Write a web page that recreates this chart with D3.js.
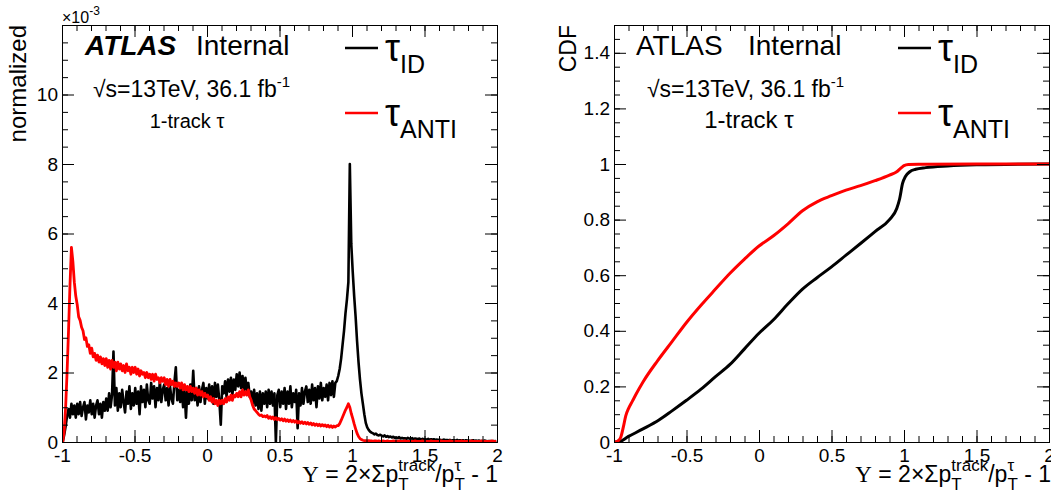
<!DOCTYPE html>
<html>
<head>
<meta charset="utf-8">
<script src="https://cdn.jsdelivr.net/npm/d3@7"></script>
<style>
  body { margin: 0; background: #fff; }
  text { white-space: pre; }
</style>
</head>
<body>
<div id="chart"></div>
<script>
var SANS = '"Liberation Sans", Arial, Helvetica, sans-serif';
var SERIF = '"Liberation Serif", "Times New Roman", serif';

// left panel: histograms of Y, bins of 0.01 from -1 to 2 (values x 1e-3)
var binStart = -1;
var binWidth = 0.01;

var histID = [
  0.0, 0.2, 0.45, 0.75, 0.95, 0.7, 1.1, 0.8, 1.05, 0.7,
  1.1, 0.8, 1.15, 0.75, 1.0, 1.15, 0.65, 1.05, 0.85, 1.2,
  0.8, 1.1, 0.7, 1.05, 1.2, 0.8, 1.1, 0.7, 1.15, 0.9,
  1.25, 0.9, 1.4, 1.0, 1.35, 2.6, 1.05, 1.55, 0.9, 1.4,
  1.0, 1.5, 1.15, 0.85, 1.45, 1.1, 1.6, 0.95, 1.4, 1.05,
  1.55, 1.1, 1.45, 0.8, 1.6, 1.15, 1.5, 1.0, 1.65, 1.2,
  1.1, 1.7, 1.25, 1.6, 1.0, 1.55, 1.2, 1.75, 1.15, 1.5,
  1.65, 1.2, 1.55, 1.05, 1.6, 1.25, 1.1, 1.7, 2.15, 1.2,
  1.5, 1.15, 1.6, 1.0, 1.45, 0.7, 1.55, 1.1, 1.65, 1.2,
  2.05, 1.2, 1.55, 1.05, 1.6, 1.15, 1.5, 1.7, 1.1, 1.55,
  1.25, 1.65, 1.2, 1.6, 1.1, 1.7, 1.3, 1.65, 1.2, 0.5,
  1.6, 1.4, 1.75, 1.3, 1.8, 1.45, 1.85, 1.35, 1.8, 1.5,
  1.95, 1.6, 2.0, 1.55, 1.9, 1.5, 1.85, 1.45, 1.7, 1.3,
  1.45, 1.1, 1.5, 1.05, 1.4, 0.95, 1.45, 0.9, 1.4, 1.1,
  1.45, 1.0, 1.5, 1.1, 1.45, 1.05, 1.4, 0.0, 1.35, 1.5,
  1.0, 1.45, 1.1, 1.55, 0.95, 1.45, 1.1, 1.6, 1.0, 1.4,
  1.15, 1.5, 0.4, 1.4, 1.05, 1.55, 1.1, 1.45, 1.6, 1.15,
  1.5, 1.1, 1.65, 1.2, 1.55, 1.0, 1.6, 1.25, 1.7, 1.2,
  1.55, 1.3, 1.65, 1.2, 1.7, 1.35, 1.75, 1.3, 1.7, 1.75,
  1.9, 2.1, 2.4, 2.8, 3.2, 3.7, 4.1, 4.6, 8.0, 5.7,
  4.9, 4.2, 3.6, 2.9, 2.3, 1.8, 1.4, 1.1, 0.8, 0.55,
  0.42, 0.35, 0.3, 0.27, 0.25, 0.22, 0.24, 0.2, 0.19, 0.21,
  0.18, 0.16, 0.19, 0.15, 0.17, 0.14, 0.16, 0.13, 0.15, 0.12,
  0.13, 0.11, 0.14, 0.1, 0.12, 0.1, 0.11, 0.09, 0.12, 0.1,
  0.09, 0.11, 0.08, 0.1, 0.09, 0.08, 0.1, 0.07, 0.09, 0.08,
  0.08, 0.07, 0.09, 0.06, 0.08, 0.07, 0.08, 0.06, 0.07, 0.06,
  0.07, 0.05, 0.06, 0.07, 0.05, 0.06, 0.05, 0.06, 0.04, 0.05,
  0.05, 0.04, 0.06, 0.04, 0.05, 0.04, 0.05, 0.03, 0.05, 0.04,
  0.04, 0.03, 0.04, 0.05, 0.03, 0.04, 0.03, 0.04, 0.03, 0.03,
  0.03, 0.04, 0.03, 0.02, 0.03, 0.03, 0.02, 0.03, 0.02, 0.03
];

var histANTI = [
  0.0, 0.3, 1.0, 2.0, 3.2, 4.5, 5.6, 5.2, 4.6, 4.2,
  3.95, 3.6, 3.5, 3.3, 3.2, 2.95, 3.0, 2.75, 2.8, 2.55,
  2.7, 2.45, 2.55, 2.35, 2.5, 2.3, 2.45, 2.25, 2.4, 2.2,
  2.4, 2.15, 2.35, 2.1, 2.35, 2.15, 2.3, 2.05, 2.3, 2.1,
  2.25, 2.05, 2.2, 2.0, 2.25, 2.05, 2.15, 1.95, 2.15, 2.0,
  2.15, 1.95, 2.1, 1.9, 2.05, 1.95, 2.0, 1.85, 2.0, 1.85,
  1.95, 1.8, 1.95, 1.75, 1.95, 1.8, 1.85, 1.7, 1.85, 1.75,
  1.85, 1.65, 1.8, 1.6, 1.8, 1.65, 1.75, 1.6, 1.7, 1.6,
  1.7, 1.55, 1.7, 1.5, 1.65, 1.5, 1.6, 1.45, 1.6, 1.45,
  1.55, 1.4, 1.55, 1.35, 1.5, 1.35, 1.45, 1.3, 1.4, 1.3,
  1.35, 1.2, 1.3, 1.15, 1.25, 1.1, 1.2, 1.05, 1.2, 1.1,
  1.2, 1.1, 1.25, 1.15, 1.3, 1.2, 1.35, 1.2, 1.35, 1.3,
  1.4, 1.3, 1.45, 1.3, 1.5, 1.35, 1.45, 1.35, 1.5, 1.3,
  1.2, 1.05, 0.95, 0.9, 0.85, 0.8, 0.76, 0.78, 0.73, 0.75,
  0.72, 0.76, 0.68, 0.73, 0.67, 0.72, 0.65, 0.7, 0.64, 0.68,
  0.63, 0.67, 0.61, 0.66, 0.6, 0.64, 0.59, 0.63, 0.58, 0.62,
  0.57, 0.61, 0.55, 0.59, 0.54, 0.58, 0.53, 0.57, 0.52, 0.56,
  0.51, 0.55, 0.49, 0.53, 0.48, 0.52, 0.47, 0.51, 0.46, 0.5,
  0.46, 0.49, 0.44, 0.48, 0.43, 0.47, 0.42, 0.46, 0.43, 0.47,
  0.47, 0.53, 0.62, 0.72, 0.82, 0.92, 1.0, 1.1, 1.0, 0.82,
  0.68, 0.52, 0.38, 0.25, 0.16, 0.1, 0.07, 0.05, 0.04, 0.04,
  0.03, 0.04, 0.03, 0.03, 0.02, 0.03, 0.03, 0.02, 0.03, 0.02,
  0.02, 0.03, 0.02, 0.02, 0.03, 0.02, 0.02, 0.02, 0.03, 0.02,
  0.02, 0.02, 0.03, 0.02, 0.02, 0.02, 0.03, 0.02, 0.02, 0.02,
  0.02, 0.02, 0.02, 0.03, 0.02, 0.02, 0.02, 0.02, 0.03, 0.02,
  0.02, 0.02, 0.02, 0.02, 0.03, 0.02, 0.02, 0.02, 0.02, 0.02,
  0.02, 0.03, 0.02, 0.02, 0.02, 0.02, 0.02, 0.03, 0.02, 0.02,
  0.02, 0.02, 0.02, 0.02, 0.02, 0.03, 0.02, 0.02, 0.02, 0.02,
  0.02, 0.02, 0.03, 0.02, 0.02, 0.02, 0.02, 0.02, 0.02, 0.03,
  0.02, 0.02, 0.02, 0.02, 0.02, 0.02, 0.03, 0.02, 0.02, 0.02
];

// right panel: cumulative distributions
var cdfXID = [-1.0, -0.97, -0.9, -0.8, -0.69, -0.6, -0.5, -0.4, -0.3, -0.2, -0.1, 0, 0.1, 0.2, 0.3, 0.4,
  0.5, 0.6, 0.7, 0.8, 0.9, 0.95, 0.97, 0.99, 1.01, 1.04, 1.08, 1.15, 1.3, 1.5, 2.0];
var cdfID = [0, 0, 0.02, 0.047, 0.079, 0.112, 0.15, 0.19, 0.235, 0.279, 0.335, 0.391, 0.44, 0.497, 0.55, 0.591,
  0.63, 0.672, 0.714, 0.757, 0.80, 0.84, 0.875, 0.93, 0.955, 0.972, 0.981, 0.987, 0.993, 0.997, 1.0];

var cdfXANTI = [-1.0, -0.99, -0.97, -0.954, -0.935, -0.919, -0.9, -0.873, -0.85, -0.8, -0.7, -0.6, -0.5, -0.4,
  -0.3, -0.2, -0.1, 0, 0.1, 0.2, 0.3, 0.4, 0.5, 0.6, 0.7, 0.8, 0.9, 0.95, 0.98, 1.0, 1.03, 1.1, 1.5, 2.0];
var cdfANTI = [0, 0, 0.005, 0.016, 0.055, 0.094, 0.12, 0.147, 0.17, 0.216, 0.292, 0.361, 0.43, 0.492,
  0.55, 0.607, 0.658, 0.705, 0.742, 0.785, 0.832, 0.864, 0.886, 0.906, 0.922, 0.94, 0.96, 0.972, 0.986, 0.994, 0.998, 0.999, 1.0, 1.0];

var xMajorTicks = [-1, -0.5, 0, 0.5, 1, 1.5, 2];
var histYTicks = [0, 2, 4, 6, 8, 10];
var cdfYTicks = [0, 0.2, 0.4, 0.6, 0.8, 1, 1.2, 1.4];

var svgWidth = 1051;
var svgHeight = 498;
var chartTop = 25;
var chartWidth = 435;
var chartHeight = 417;

var svg = d3.select("#chart").append("svg")
  .attr("width", svgWidth)
  .attr("height", svgHeight)
  .style("background", "#fff");

// lay out a run of text pieces (sub/superscripts) one after the other
function richText(parent, parts, x, y, anchor) {
  var g = parent.append("g");
  var cursor = 0, stackX = 0, stackW = 0;
  parts.forEach(function(p) {
    var t = g.append("text")
      .attr("y", p.dy || 0)
      .style("font-family", p.family || SANS)
      .style("font-size", p.size + "px")
      .style("font-weight", p.bold ? "bold" : "normal")
      .style("font-style", p.italic ? "italic" : "normal")
      .text(p.t);
    var w = t.node().getComputedTextLength();
    if (p.stack === "first") {
      stackX = cursor; stackW = w;
      t.attr("x", cursor);
    } else if (p.stack === "second") {
      t.attr("x", stackX);
      cursor = stackX + Math.max(stackW, w);
    } else {
      t.attr("x", cursor);
      cursor += w;
    }
  });
  var off = anchor === "end" ? -cursor : anchor === "middle" ? -cursor / 2 : 0;
  g.attr("transform", `translate(${x + off}, ${y})`);
  return g;
}

function drawAxes(g, xScale, yScale, yTicks, yMinorStep) {
  var yMax = yScale.domain()[1];
  var xMinor = d3.range(-1, 2.0001, 0.1);
  var yMinor = d3.range(0, yMax + 1e-9, yMinorStep);
  var fmt = function(d) { return String(d); };

  var axes = [
    [d3.axisBottom(xScale).tickValues(xMajorTicks).tickFormat(fmt).tickSizeInner(-12).tickPadding(7), `translate(0, ${chartHeight})`],
    [d3.axisBottom(xScale).tickValues(xMinor).tickFormat("").tickSizeInner(-6), `translate(0, ${chartHeight})`],
    [d3.axisTop(xScale).tickValues(xMajorTicks).tickFormat("").tickSizeInner(-12), null],
    [d3.axisTop(xScale).tickValues(xMinor).tickFormat("").tickSizeInner(-6), null],
    [d3.axisLeft(yScale).tickValues(yTicks).tickFormat(fmt).tickSizeInner(-12).tickPadding(4), null],
    [d3.axisLeft(yScale).tickValues(yMinor).tickFormat("").tickSizeInner(-6), null],
    [d3.axisRight(yScale).tickValues(yTicks).tickFormat("").tickSizeInner(-12), `translate(${chartWidth}, 0)`],
    [d3.axisRight(yScale).tickValues(yMinor).tickFormat("").tickSizeInner(-6), `translate(${chartWidth}, 0)`]
  ];
  axes.forEach(function(a) {
    var ag = g.append("g").call(a[0].tickSizeOuter(0));
    if (a[1]) ag.attr("transform", a[1]);
    ag.select(".domain").remove();
    ag.selectAll("text").attr("font-family", SANS).attr("font-size", 19).attr("fill", "#000");
    ag.selectAll("line").attr("stroke", "#000");
  });

  g.append("rect")
    .attr("x", 0.5).attr("y", 0.5)
    .attr("width", chartWidth).attr("height", chartHeight)
    .attr("fill", "none").attr("stroke", "#000").attr("stroke-width", 1);
}

function drawInfo(g, opts) {
  if (opts.bold) {
    g.append("text").attr("x", opts.atlasX).attr("y", 55)
      .style("font-family", SANS).style("font-size", "28px")
      .style("font-weight", "bold").style("font-style", "italic")
      .text("ATLAS");
  } else {
    g.append("text").attr("x", opts.atlasX).attr("y", 55)
      .style("font-family", SANS).style("font-size", "28px")
      .text("ATLAS");
  }
  g.append("text").attr("x", opts.internalX).attr("y", 55)
    .style("font-family", SANS).style("font-size", "28px")
    .text("Internal");

  richText(g, [
    {t: "\u221As=13TeV, 36.1 fb", size: 23},
    {t: "-1", size: 15, dy: -10}
  ], opts.lumiX, 97, "start");

  g.append("text").attr("x", opts.trackX).attr("y", 128)
    .attr("text-anchor", "middle")
    .style("font-family", SANS).style("font-size", opts.trackSize + "px")
    .text("1-track \u03C4");

  // legend
  var entries = [["ID", "#000", 48], ["ANTI", "#ff0000", 113]];
  entries.forEach(function(e) {
    g.append("line")
      .attr("x1", opts.legX).attr("x2", opts.legX + 33)
      .attr("y1", e[2]).attr("y2", e[2])
      .attr("stroke", e[1]).attr("stroke-width", 2.5);
    richText(g, [
      {t: "\u03C4", size: 38},
      {t: e[0], size: 25, dy: 12}
    ], opts.legX + 40, e[2] + 13, "start");
  });

  // x axis title
  richText(g, [
    {t: "Y", size: 23, family: SERIF},
    {t: " = 2\u00D7\u03A3p", size: 23},
    {t: "T", size: 17, dy: 8, stack: "first"},
    {t: "track", size: 17, dy: -11, stack: "second"},
    {t: "/p", size: 23},
    {t: "T", size: 17, dy: 8, stack: "first"},
    {t: "\u03C4", size: 17, dy: -11, stack: "second"},
    {t: " - 1", size: 23}
  ], opts.titleRight, 482, "end");
}

// ---------- left panel: normalized histograms ----------
var left = svg.append("g").attr("transform", `translate(62, ${chartTop})`);

var xLeft = d3.scaleLinear().domain([-1, 2]).range([0, chartWidth]);
var yLeft = d3.scaleLinear().domain([0, 12]).range([chartHeight, 0]);

svg.append("clipPath").attr("id", "clipL")
  .append("rect").attr("width", chartWidth + 1).attr("height", chartHeight + 1);

var histLine = d3.line()
  .x(function(d, i) { return xLeft(binStart + (i + 0.5) * binWidth); })
  .y(function(d) { return yLeft(d); });

var histG = left.append("g").attr("clip-path", "url(#clipL)");
histG.append("path")
  .attr("d", histLine(histID))
  .attr("fill", "none").attr("stroke", "#000").attr("stroke-width", 2.6)
  .attr("stroke-linejoin", "round");
histG.append("path")
  .attr("d", histLine(histANTI))
  .attr("fill", "none").attr("stroke", "#ff0000").attr("stroke-width", 2.8)
  .attr("stroke-linejoin", "round");

drawAxes(left, xLeft, yLeft, histYTicks, 0.5);

// exponent of the y axis
richText(svg, [
  {t: "\u00D710", size: 16},
  {t: "-3", size: 12, dy: -8}
], 62, 23, "start");

svg.append("text")
  .attr("transform", "translate(26, 25) rotate(-90)")
  .attr("text-anchor", "end")
  .style("font-family", SANS).style("font-size", "24px")
  .text("normalized");

drawInfo(svg, {bold: true, atlasX: 85, internalX: 196, lumiX: 93, trackX: 187, trackSize: 20,
  legX: 345, titleRight: 498});

// ---------- right panel: CDF ----------
var right = svg.append("g").attr("transform", `translate(614, ${chartTop})`);

var xRight = d3.scaleLinear().domain([-1, 2]).range([0, chartWidth]);
var yRight = d3.scaleLinear().domain([0, 1.5]).range([chartHeight, 0]);

svg.append("clipPath").attr("id", "clipR")
  .append("rect").attr("width", chartWidth + 1).attr("height", chartHeight + 1);

var cdfLine = d3.line()
  .curve(d3.curveMonotoneX)
  .x(function(d) { return xRight(d[0]); })
  .y(function(d) { return yRight(d[1]); });

var cdfG = right.append("g").attr("clip-path", "url(#clipR)");
cdfG.append("path")
  .attr("d", cdfLine(d3.zip(cdfXID, cdfID)))
  .attr("fill", "none").attr("stroke", "#000").attr("stroke-width", 3);
cdfG.append("path")
  .attr("d", cdfLine(d3.zip(cdfXANTI, cdfANTI)))
  .attr("fill", "none").attr("stroke", "#ff0000").attr("stroke-width", 3);

drawAxes(right, xRight, yRight, cdfYTicks, 0.05);

svg.append("text")
  .attr("transform", "translate(576, 25) rotate(-90)")
  .attr("text-anchor", "end")
  .style("font-family", SANS).style("font-size", "23px")
  .text("CDF");

drawInfo(svg, {bold: false, atlasX: 636, internalX: 748, lumiX: 647, trackX: 749, trackSize: 24,
  legX: 898, titleRight: 1051});
</script>
</body>
</html>
